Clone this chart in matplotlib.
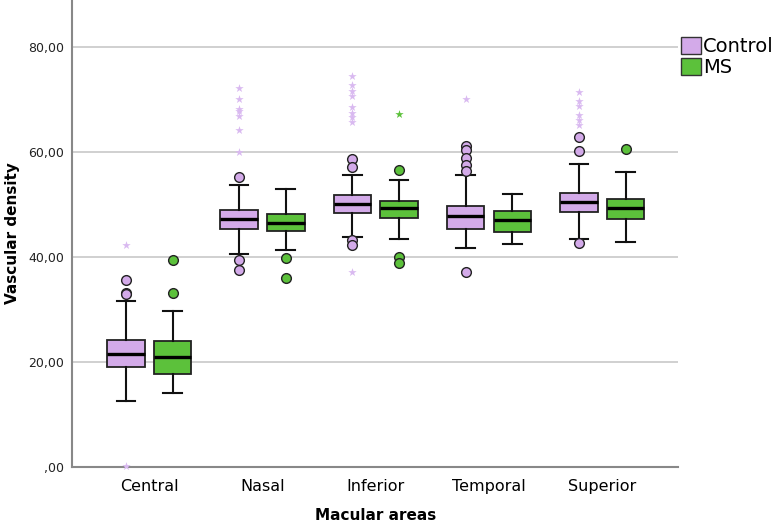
import numpy as np
import matplotlib.pyplot as plt
from matplotlib.patches import Patch

# --- data ---
areas = ["Central", "Nasal", "Inferior", "Temporal", "Superior"]
groups = ["Control", "MS"]

# box statistics per area: (whislo, q1, med, q3, whishi)
control_stats = [
    (12.6, 19.0, 21.6, 24.2, 31.6),
    (40.5, 45.4, 47.2, 49.0, 53.8),
    (43.8, 48.4, 50.2, 51.9, 55.7),
    (41.7, 45.3, 47.8, 49.7, 55.6),
    (43.4, 48.5, 50.5, 52.3, 57.7),
]
ms_stats = [
    (14.0, 17.8, 21.0, 24.0, 29.7),
    (41.3, 44.9, 46.4, 48.2, 53.0),
    (43.4, 47.5, 49.4, 50.7, 54.6),
    (42.5, 44.7, 47.1, 48.8, 52.0),
    (42.9, 47.2, 49.4, 51.0, 56.2),
]

# outliers (circles) and extremes (stars)
control_out = [
    [35.7, 33.2, 33.0],
    [55.2, 39.4, 37.6],
    [58.6, 57.2, 43.2, 42.3],
    [61.2, 60.4, 58.9, 57.5, 56.4, 37.2],
    [62.9, 60.3, 42.7],
]
ms_out = [
    [39.4, 33.2],
    [39.9, 36.0],
    [56.6, 40.1, 38.8],
    [],
    [60.6],
]
control_ext = [
    [42.3, 0.25],
    [72.3, 70.2, 68.3, 67.9, 66.9, 64.3, 60.1],
    [74.5, 72.8, 71.7, 70.7, 68.6, 67.4, 66.7, 65.8, 37.1],
    [70.2],
    [71.5, 69.7, 68.8, 67.0, 66.2, 65.1],
]
ms_ext = [[], [], [67.2], [], []]

yticks = [0, 20, 40, 60, 80]
ytick_labels = [",00", "20,00", "40,00", "60,00", "80,00"]

col_control = "#d3aae9"
col_ms = "#5cc13b"
col_control_star = "#d9b9f0"
col_ms_star = "#5cc13b"

fig = plt.figure(figsize=(7.76, 5.27), dpi=100)
ax = fig.add_axes([0.093, 0.114, 0.781, 0.886])

x = np.arange(len(areas))
off = 0.206
width = 0.33


def make_stats(stats, outs):
    res = []
    for (lo, q1, med, q3, hi), fl in zip(stats, outs):
        res.append(dict(whislo=lo, q1=q1, med=med, q3=q3, whishi=hi, fliers=fl))
    return res


for stats, outs, exts, pos, fc, sc in [
    (control_stats, control_out, control_ext, x - off, col_control, col_control_star),
    (ms_stats, ms_out, ms_ext, x + off, col_ms, col_ms_star),
]:
    ax.bxp(make_stats(stats, outs), positions=pos, widths=width,
           patch_artist=True, showfliers=True,
           boxprops=dict(facecolor=fc, edgecolor="#222222", linewidth=1.3),
           medianprops=dict(color="black", linewidth=2.4),
           whiskerprops=dict(color="#111111", linewidth=1.5),
           capprops=dict(color="#111111", linewidth=1.5),
           capwidths=width * 0.5,
           flierprops=dict(marker="o", markerfacecolor=fc, markeredgecolor="#222222",
                           markersize=7, markeredgewidth=1.0),
           zorder=3)
    for p, e in zip(pos, exts):
        if e:
            ax.scatter([p] * len(e), e, marker="*", s=40, color=sc,
                       linewidths=0, zorder=4, clip_on=False)

ax.set_xlim(-0.68, 4.67)
ax.set_ylim(0, 89)
ax.set_xticks(x)
ax.set_xticklabels(areas, fontsize=11.5)
ax.set_yticks(yticks)
ax.set_yticklabels(ytick_labels, fontsize=9, color="#222222")
ax.tick_params(axis="y", length=0, pad=6)
ax.tick_params(axis="x", length=0, pad=9)
ax.yaxis.grid(True, color="#c8c8c8", linewidth=1.2, zorder=0)
ax.set_axisbelow(True)

for s in ["top", "right"]:
    ax.spines[s].set_visible(False)
for s in ["left", "bottom"]:
    ax.spines[s].set_color("#888888")
    ax.spines[s].set_linewidth(1.5)

ax.set_xlabel("Macular areas", fontsize=11, fontweight="bold")
ax.xaxis.set_label_coords(0.5, -0.088)
ax.set_ylabel("Vascular density", fontsize=11, fontweight="bold")
ax.yaxis.set_label_coords(-0.086, 0.5)

handles = [Patch(facecolor=col_control, edgecolor="#333333", label=groups[0]),
           Patch(facecolor=col_ms, edgecolor="#333333", label=groups[1])]
fig.legend(handles=handles, loc="upper left", bbox_to_anchor=(0.868, 0.945),
           frameon=False, fontsize=14, handlelength=1.0, handleheight=1.0,
           handletextpad=0.1, labelspacing=0.1, borderaxespad=0)

fig.savefig("out.png", dpi=100)
